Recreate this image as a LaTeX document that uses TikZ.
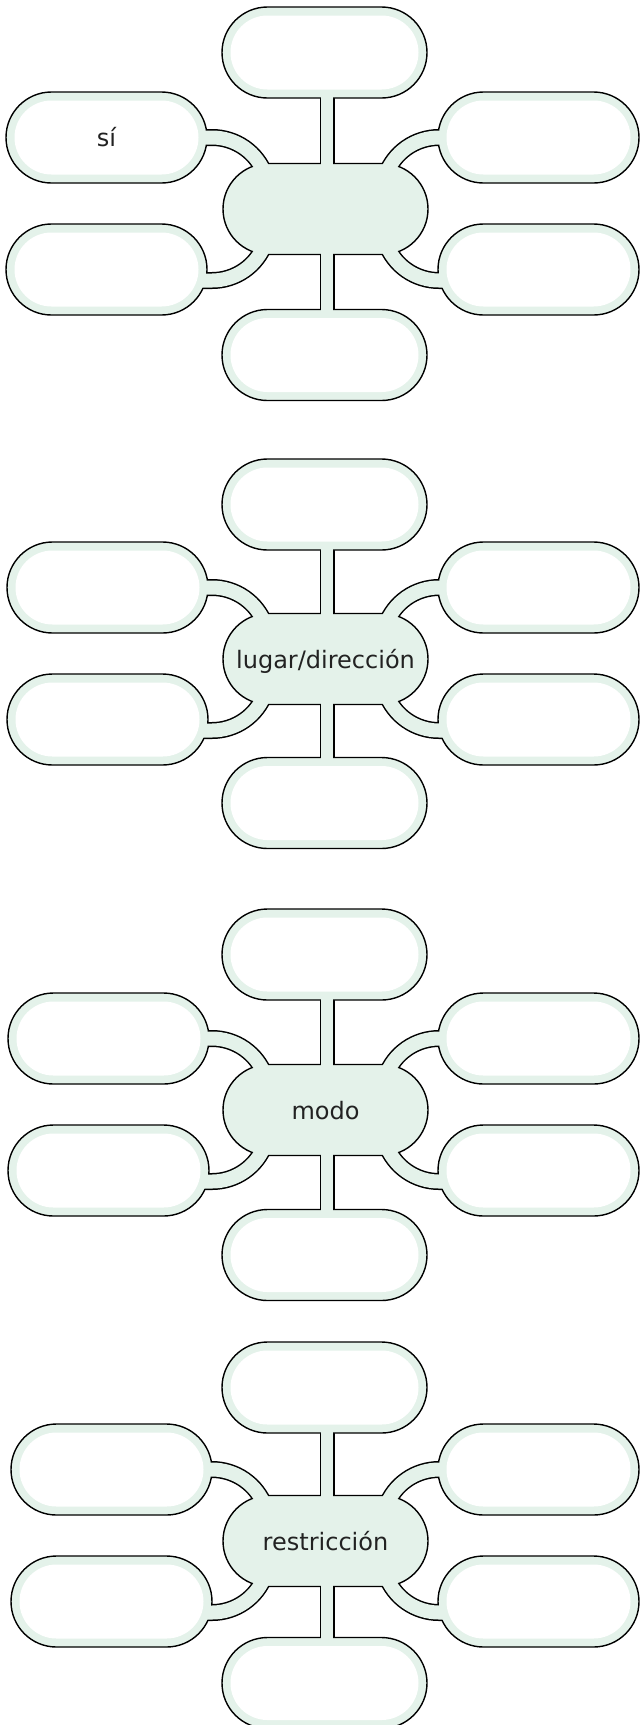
\documentclass[tikz,border=0pt]{standalone}
\usepackage{fontspec}
\setmainfont{DejaVu Sans}
\usetikzlibrary{calc}
\definecolor{band}{HTML}{E4F2EA}
\definecolor{ink}{HTML}{222222}
\pgfdeclarelayer{bg}
\pgfdeclarelayer{armblack}
\pgfdeclarelayer{boxes}
\pgfdeclarelayer{armgreen}
\pgfdeclarelayer{inner}
\pgfsetlayers{bg,armblack,boxes,armgreen,inner,main}
\tikzset{
  slot/.style={shape=rectangle, inner sep=0pt, outer sep=0pt, minimum height=91pt,
    text height=18pt, text depth=0pt, font=\fontsize{24}{28}\selectfont, text=ink},
  widebox/.style={slot, minimum width=205pt},
  sidebox/.style={slot, minimum width=201pt},
  pillout/.style={fill=band, draw=black, line width=1.4pt, rounded corners=45.5pt},
  pillin/.style={fill=white, rounded corners=37pt},
  armk/.style={draw=black, line width=17pt},
  armg/.style={draw=band, line width=14pt},
  stemk/.style={draw=black, line width=15pt},
  stemg/.style={draw=band, line width=12pt},
}
% #1 id, #2 armstyle, #3 stemstyle
\newcommand\mmconn[3]{%
  \draw[#2] ($(#1ul.east)+(-8,0)$) -- ($(#1c.center)+(-113.5,-71.5)$)
        arc[start angle=-90, end angle=-20, radius=56.5];
  \draw[#2] ($(#1ll.east)+(-8,11)$) -- ($(#1c.center)+(-113.5,71.5)$)
        arc[start angle=90, end angle=20, radius=56.5];
  \draw[#2] ($(#1ur.west)+(8,0)$) -- ($(#1c.center)+(113.5,-71.5)$)
        arc[start angle=-90, end angle=-160, radius=56.5];
  \draw[#2] ($(#1lr.west)+(8,11)$) -- ($(#1c.center)+(113.5,71.5)$)
        arc[start angle=90, end angle=160, radius=56.5];
  \draw[#3] ($(#1t.south)+(2.5,-8)$) -- ($(#1c.north)+(1.5,8)$);
  \draw[#3] ($(#1c.south)+(1.5,-8)$) -- ($(#1b.north)+(2.5,8)$);
}
% #1 id, #2 dy, #3 left x of left boxes, #4 centre text, #5 upper-left text, #6 top adj, #7 bottom adj
\newcommand\mmgroup[7]{%
  \node[widebox] (#1c) at (325.5, 209+#2) {#4};
  \node[widebox] (#1t) at (324.5, 52.5+#2+#6) {};
  \node[widebox] (#1b) at (324.5, 355+#2+#7) {};
  \node[sidebox] (#1ul) at (#3+100.5, 137.5+#2) {#5};
  \node[sidebox] (#1ll) at (#3+100.5, 269.5+#2) {};
  \node[sidebox] (#1ur) at (538.5, 137.5+#2) {};
  \node[sidebox] (#1lr) at (538.5, 269.5+#2) {};
  \begin{pgfonlayer}{armblack}\mmconn{#1}{armk}{stemk}\end{pgfonlayer}
  \begin{pgfonlayer}{boxes}
    \foreach \n in {c,t,b,ul,ll,ur,lr}
      \path[pillout] (#1\n.south west) rectangle (#1\n.north east);
  \end{pgfonlayer}
  \begin{pgfonlayer}{armgreen}\mmconn{#1}{armg}{stemg}\end{pgfonlayer}
  \begin{pgfonlayer}{inner}
    \foreach \n in {t,b,ul,ll,ur,lr}
      \path[pillin] ($(#1\n.south west)+(8.5,-8.5)$) rectangle ($(#1\n.north east)+(-8.5,8.5)$);
  \end{pgfonlayer}
}
\begin{document}
\begin{tikzpicture}[x=1pt, y=-1pt]
  \begin{pgfonlayer}{bg}
    \fill[white] (0,0) rectangle (640,1725);
  \end{pgfonlayer}
  \useasboundingbox (0,0) rectangle (640,1725);
  \mmgroup{ga}{0}{6}{}{sí}{0}{0}
  \mmgroup{gb}{450}{7}{lugar/dirección}{}{2}{-2}
  \mmgroup{gc}{901}{8}{modo}{}{1}{-1}
  \mmgroup{gd}{1332}{11}{restricción}{}{3}{-4}
\end{tikzpicture}
\end{document}
